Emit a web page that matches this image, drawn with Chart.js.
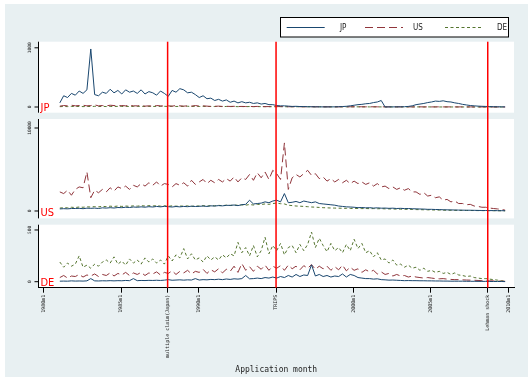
<!DOCTYPE html>
<html><head><meta charset="utf-8">
<script src="https://cdn.jsdelivr.net/npm/chart.js@4.4.1/dist/chart.umd.min.js"></script>
<style>
html,body{margin:0;padding:0;background:#fff;width:528px;height:377px;overflow:hidden;}
#bg{position:absolute;left:5px;top:4px;width:523px;height:373px;background:#e8f0f2;}
canvas{position:absolute;left:0;}
</style></head><body>
<div id="bg"></div>
<canvas id="cJP" width="528" height="116" style="top:0px"></canvas>
<canvas id="cUS" width="528" height="106" style="top:116px"></canvas>
<canvas id="cDE" width="528" height="155" style="top:222px"></canvas>
<script>
// ---- time axis: quarterly readings, first quarter of 1981 to last quarter of 2009
const firstPeriod = 1981.04;
const periodLength = 0.25;

// ---- x tick marks and their labels
const tickYears  = [1980, 1985, 1988, 1990, 1995, 2000, 2005, 2008.667, 2010];
const tickLabels = ['1980m1','1985m1','multiple claim(Japan)','1990m1','TRIPS','2000m1','2005m1','Lehman shock','2010m1'];
// event lines
const eventYears = [1988, 1995, 2008.667];

// ---- series names
const seriesNames = ['JP', 'US', 'DE'];

// ---- panel "JP"
const jpJP = [70,190,160,230, 200,270,230,290, 980,210,190,250, 230,300,240,280, 220,290,250,270,
  230,290,220,260, 240,200,270,230, 180,280,250,310, 290,240,250,210, 160,190,140,150,
  110,130,100,120, 80,100,70,90, 70,80,60,70, 50,60,40,40, 25,20,20,15,
  10,12,8,8, 5,5,3,3, 2,2,2,3, 5,8,12,20, 30,40,45,55,
  60,75,85,110, 0,2,2,3, 3,5,10,20, 40,50,60,75, 85,100,95,105,
  90,85,70,60, 45,35,25,20, 15,12,10,8, 5,4,3,2];
const usJP = [15,25,20,30, 20,25,30,20, 25,35,20,25, 20,30,25,20, 25,20,30,20,
  20,25,15,20, 15,25,20,15, 20,15,25,20, 15,20,15,25, 15,20,15,10,
  12,15,10,12, 10,12,8,10, 8,10,8,10, 8,6,8,6, 6,8,6,5,
  5,6,5,4, 4,5,4,4, 4,3,4,3, 3,4,3,4, 4,3,4,3,
  3,4,3,3, 3,3,2,3, 3,2,3,2, 2,3,2,2, 2,2,3,2,
  2,2,2,2, 2,1,2,1, 1,1,1,1, 1,1,1,0];
const deJP = [6,9,7,10, 8,10,7,9, 9,11,8,10, 8,10,9,11, 9,12,8,10,
  10,12,9,11, 9,11,10,12, 10,12,9,11, 10,13,9,12, 9,11,8,10,
  8,10,7,9, 7,9,6,8, 6,8,6,7, 6,7,5,6, 5,6,5,5,
  4,5,4,4, 4,4,3,4, 3,4,3,3, 3,3,3,3, 3,3,2,3,
  2,3,2,2, 2,2,2,2, 2,2,2,2, 2,2,1,2, 1,2,1,1,
  1,1,1,1, 1,1,1,1, 1,1,1,1, 1,1,0,0];

// ---- panel "US"
const jpUS = [250,280,260,300, 300,320,280,340, 320,350,300,380, 350,400,360,420, 400,450,420,480,
  450,500,460,520, 480,550,500,560, 520,480,540,500, 550,520,580,540, 560,600,550,620,
  600,650,620,680, 680,720,650,760, 800,1300,850,900, 950,1100,1000,1200, 1300,1100,2100,1000,
  1050,1150,1000,1200, 1100,1000,1100,900, 850,800,750,700, 600,550,500,480, 450,400,420,380,
  400,350,380,340, 350,320,340,300, 320,290,300,270, 260,240,230,200, 200,180,170,150,
  140,130,120,110, 100,90,90,80, 70,60,60,50, 50,40,40,30];
const usUS = [2300,2100,2500,1900, 2600,2900,2800,4700, 1600,2500,2200,2600, 2300,2800,2400,2900, 2700,3000,2600,3100,
  2900,3300,3000,3400, 3100,3500,3000,3300, 3200,2900,3300,3100, 3400,3000,3700,3200, 3500,3800,3300,3700,
  3400,3800,3500,3900, 3600,4100,3500,4000, 3800,4400,3700,4600, 4000,4700,3800,4900, 4500,3800,8200,2600,
  4000,4400,4100,4500, 4900,4300,4500,3900, 4100,3600,3900,3500, 3800,3400,3700,3300, 3600,3300,3500,3200,
  3400,3000,3300,2900, 3000,2700,2900,2600, 2800,2500,2700,2300, 2300,2000,2200,1800, 1900,1600,1700,1300,
  1400,1100,1200,900, 900,750,800,600, 550,450,450,350, 300,250,200,100];
const deUS = [350,400,380,450, 420,480,450,500, 480,530,500,560, 520,580,540,600, 550,600,560,620,
  580,640,600,650, 600,650,580,640, 560,620,580,600, 580,620,560,600, 600,640,590,650,
  620,680,640,700, 660,720,680,740, 700,780,720,800, 780,850,800,900, 950,880,850,700,
  650,600,580,550, 520,480,460,430, 400,380,360,350, 340,330,320,310, 300,310,290,300,
  280,290,270,280, 260,250,240,230, 220,210,200,190, 170,160,150,140, 130,120,110,100,
  90,85,80,75, 70,65,60,55, 50,45,40,40, 35,30,25,20];

// ---- panel "DE"
const jpDE = [5,6,5,8, 6,7,6,8, 30,8,7,9, 8,10,8,10, 9,12,10,30,
  10,12,11,13, 12,14,12,15, 20,14,16,18, 15,18,16,30, 16,20,18,22,
  20,24,20,26, 22,28,25,30, 60,28,30,35, 30,40,35,45, 35,50,40,60,
  45,70,50,65, 60,163,55,70, 50,60,45,55, 50,75,45,70, 60,40,35,30,
  30,25,28,20, 18,15,16,14, 12,10,11,10, 10,9,9,8, 8,7,7,6,
  6,5,5,5, 5,4,4,4, 3,3,3,2, 2,2,2,1];
const usDE = [40,60,35,55, 50,70,45,65, 55,75,50,70, 60,85,55,80, 65,90,60,85,
  70,90,60,85, 75,95,65,90, 80,105,70,100, 85,110,75,100, 90,120,80,115,
  95,125,85,120, 100,150,90,175, 110,145,100,150, 120,160,110,150, 130,155,110,160,
  125,150,115,155, 130,165,120,150, 125,150,110,145, 115,160,105,140, 110,125,90,115,
  95,110,75,95, 70,80,55,70, 55,60,45,55, 45,40,35,40, 35,30,28,30,
  25,22,20,20, 18,16,15,14, 12,10,10,8, 8,6,5,4];
const deDE = [190,140,180,150, 170,250,140,160, 130,170,150,190, 210,180,240,170, 200,160,220,180,
  210,170,230,190, 220,180,210,170, 250,200,260,230, 320,220,270,210, 230,190,250,210,
  240,210,260,230, 270,250,380,280, 330,250,350,240, 300,430,270,350, 300,370,260,330,
  350,280,360,300, 360,480,330,420, 350,290,370,300, 330,280,360,300, 410,320,370,280,
  300,240,280,210, 220,180,210,160, 170,140,160,130, 140,110,130,100, 110,90,100,80,
  90,70,85,65, 60,50,55,40, 35,30,30,25, 20,15,10,5];

// ---- y ticks per panel
const jpTicks = [0, 1000];
const usTicks = [0, 10000];
const deTicks = [0, 500];

// ---- styles
const colors = ['#1a476f', '#90353b', '#55752f'];
const dashes = [[], [8, 4], [3, 2.5]];
const X_MIN = 1979.664, X_MAX = 2010.362;

function toPoints(arr) { return arr.map((v, i) => ({ x: firstPeriod + i * periodLength, y: v })); }
function makeDatasets(list) {
  return list.map((arr, k) => ({
    label: seriesNames[k], data: toPoints(arr),
    borderColor: colors[k], backgroundColor: colors[k], borderWidth: 1,
    borderDash: dashes[k], pointRadius: 0, tension: 0, fill: false
  }));
}

const panelPlugin = {
  id: 'panel',
  beforeDraw(chart) {
    const { ctx, chartArea: a } = chart;
    ctx.save(); ctx.fillStyle = '#ffffff';
    ctx.fillRect(a.left, a.top, a.right - a.left, a.bottom - a.top);
    ctx.restore();
  },
  afterDraw(chart, args, opts) {
    const { ctx, chartArea: a } = chart;
    const xs = chart.scales.x, ys = chart.scales.y;
    ctx.save();
    // event lines
    ctx.strokeStyle = '#ff0000'; ctx.lineWidth = 1.5;
    const y0 = opts.extendTop ? 0 : a.top;
    const y1 = opts.extendBottom ? chart.height : a.bottom;
    eventYears.forEach(v => {
      const px = xs.getPixelForValue(v);
      ctx.beginPath(); ctx.moveTo(px, y0); ctx.lineTo(px, y1); ctx.stroke();
    });
    // y axis line
    ctx.strokeStyle = '#000'; ctx.lineWidth = 1;
    ctx.beginPath(); ctx.moveTo(a.left, a.top); ctx.lineTo(a.left, a.bottom); ctx.stroke();
    // ticks + rotated labels
    ctx.fillStyle = '#222';
    ctx.font = '4.5px "DejaVu Sans Mono", monospace';
    opts.ticks.forEach(v => {
      const py = ys.getPixelForValue(v);
      ctx.beginPath(); ctx.moveTo(a.left - 4, py); ctx.lineTo(a.left, py); ctx.stroke();
      ctx.save(); ctx.translate(30, py); ctx.rotate(-Math.PI / 2);
      ctx.textAlign = 'center'; ctx.textBaseline = 'middle';
      ctx.fillText(String(v), 0, 0); ctx.restore();
    });
    // panel name
    ctx.fillStyle = '#ff0000';
    ctx.font = '11px "Liberation Sans Narrow", "DejaVu Sans Condensed", "Liberation Sans", sans-serif';
    ctx.textAlign = 'left'; ctx.textBaseline = 'alphabetic';
    ctx.fillText(opts.name, a.left + 2, a.bottom - 2);
    ctx.restore();
  }
};

const legendPlugin = {
  id: 'stataLegend',
  afterDraw(chart) {
    const ctx = chart.ctx;
    ctx.save();
    ctx.fillStyle = '#fff'; ctx.fillRect(280.5, 17.5, 228, 19.5);
    ctx.strokeStyle = '#000'; ctx.lineWidth = 1; ctx.strokeRect(280.5, 17.5, 228, 19.5);
    const lineX = [286.7, 365, 445], textX = [340, 413, 497];
    const cy = 27.5;
    ctx.font = '8px "Liberation Sans Narrow", "DejaVu Sans Condensed", "Liberation Sans", sans-serif';
    ctx.textBaseline = 'middle'; ctx.textAlign = 'left';
    chart.data.datasets.forEach((ds, k) => {
      ctx.strokeStyle = ds.borderColor; ctx.setLineDash(ds.borderDash); ctx.lineWidth = 1;
      ctx.beginPath(); ctx.moveTo(lineX[k], cy); ctx.lineTo(lineX[k] + 38, cy); ctx.stroke();
      ctx.setLineDash([]);
      ctx.fillStyle = '#222'; ctx.fillText(ds.label, textX[k], cy + 0.5);
    });
    ctx.restore();
  }
};

function baseOptions(pad, yMin, yMax, panelOpts, xOpts) {
  return {
    responsive: false, maintainAspectRatio: false, animation: false, devicePixelRatio: 1,
    layout: { padding: pad },
    plugins: { legend: { display: false }, tooltip: { enabled: false }, panel: panelOpts },
    scales: {
      x: Object.assign({ type: 'linear', min: X_MIN, max: X_MAX, bounds: 'data', display: false }, xOpts || {}),
      y: { type: 'linear', min: yMin, max: yMax, display: false }
    }
  };
}

Chart.defaults.font.family = '"DejaVu Sans Mono", monospace';

new Chart(document.getElementById('cJP'), {
  type: 'line',
  data: { datasets: makeDatasets([jpJP, usJP, deJP]) },
  options: baseOptions({ left: 38.5, right: 14, top: 41.7, bottom: 3.3 }, -96, 1103,
    { name: 'JP', ticks: jpTicks, extendTop: false, extendBottom: true }),
  plugins: [panelPlugin, legendPlugin]
});

new Chart(document.getElementById('cUS'), {
  type: 'line',
  data: { datasets: makeDatasets([jpUS, usUS, deUS]) },
  options: baseOptions({ left: 38.5, right: 14, top: 3, bottom: 3.6 }, -892, 11084,
    { name: 'US', ticks: usTicks, extendTop: true, extendBottom: true }),
  plugins: [panelPlugin]
});

new Chart(document.getElementById('cDE'), {
  type: 'line',
  data: { datasets: makeDatasets([jpDE, usDE, deDE]) },
  options: baseOptions({ left: 38.5, right: 14, top: 2.7, bottom: 0 }, -58, 551,
    { name: 'DE', ticks: deTicks, extendTop: true, extendBottom: false },
    {
      display: true, position: 'bottom',
      afterBuildTicks: s => { s.ticks = tickYears.map(v => ({ value: v })); },
      afterFit: s => { s.height = 89.3; },
      grid: { display: true, drawOnChartArea: false, drawTicks: true, tickLength: 5, color: '#000', tickColor: '#000', lineWidth: 1 },
      border: { display: true, color: '#000', width: 1 },
      ticks: { autoSkip: false, minRotation: 90, maxRotation: 90, padding: 2, color: '#222',
        font: { family: '"DejaVu Sans Mono", monospace', size: 5 },
        callback: (v, i) => tickLabels[i] },
      title: { display: true, text: 'Application month', color: '#222',
        font: { family: '"DejaVu Sans Mono", monospace', size: 8 }, padding: { top: 0, bottom: 2 } }
    }),
  plugins: [panelPlugin]
});
</script>
</body></html>
